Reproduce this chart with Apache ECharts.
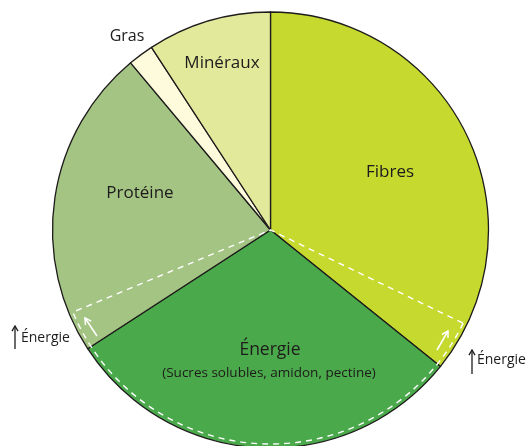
<!DOCTYPE html>
<html><head><meta charset="utf-8">
<script src="https://cdn.jsdelivr.net/npm/echarts@6/dist/echarts.min.js"></script>
<style>html,body{margin:0;padding:0;background:#fff}#c{width:529px;height:446px}</style>
</head><body><div id="c"></div>
<script>
// ---- data ----
const categories = ['Fibres', 'Énergie', 'Protéine', 'Gras', 'Minéraux'];
const shares = [35.8, 30.1, 23.1, 1.9, 9.2];        // % of the pie
const energyInFibres = 3.6;                          // part of Fibres counted as energy
const energyInProteine = 2.9;                        // part of Protéine counted as energy
const energyNote = '(Sucres solubles, amidon, pectine)';
const sideLabel = 'Énergie';
const colors = ['#c5d92f', '#4aa94a', '#a4c483', '#fdfbdc', '#e3e99b'];

// ---- layout ----
const CX = 270.5, CY = 230, R = 218;
const FONT = '"Open Sans", "Noto Sans", sans-serif';
const TXT = '#1e1b1c';

const chart = echarts.init(document.getElementById('c'), null, {renderer: 'canvas'});

const baseData = categories.map((c, i) => ({
  name: c, value: shares[i],
  itemStyle: {color: colors[i]}
}));

const hidden = {color: 'transparent', borderWidth: 0};
const energyTotal = energyInFibres + shares[1] + energyInProteine;
const dashData = [
  {name: 'a', value: shares[0] - energyInFibres, itemStyle: hidden},
  {name: 'energie-zone', value: energyTotal,
   itemStyle: {color: 'transparent', borderColor: '#ffffff', borderWidth: 1.4, borderType: [6, 5]}},
  {name: 'b', value: shares[2] - energyInProteine + shares[3] + shares[4], itemStyle: hidden}
];

function arrow(x1, y1, x2, y2, color, w, head) {
  const dx = x2 - x1, dy = y2 - y1, L = Math.hypot(dx, dy);
  const ux = dx / L, uy = dy / L;
  const a = Math.PI / 6;
  const hx1 = x2 - head * (ux * Math.cos(a) - uy * Math.sin(a));
  const hy1 = y2 - head * (uy * Math.cos(a) + ux * Math.sin(a));
  const hx2 = x2 - head * (ux * Math.cos(a) + uy * Math.sin(a));
  const hy2 = y2 - head * (uy * Math.cos(a) - ux * Math.sin(a));
  return [
    {type: 'polyline', z: 100, shape: {points: [[x1, y1], [x2, y2]]}, style: {stroke: color, lineWidth: w, fill: null}},
    {type: 'polyline', z: 100, shape: {points: [[hx1, hy1], [x2, y2], [hx2, hy2]]}, style: {stroke: color, lineWidth: w, fill: null}}
  ];
}

function txt(x, y, s, size, align) {
  return {type: 'text', z: 100, x: x, y: y,
    style: {text: s, fill: TXT, font: size + 'px ' + FONT, align: align || 'center', verticalAlign: 'middle'}};
}

const graphics = [
  txt(390, 172, categories[0], 17),
  txt(270, 350, categories[1], 17.5),
  txt(269, 373, energyNote, 13.5),
  txt(140, 193, categories[2], 17),
  txt(127, 36, categories[3], 16),
  txt(222, 63, categories[4], 17),
  txt(477, 360, sideLabel, 14, 'left'),
  txt(21, 338, sideLabel, 14, 'left'),
  ...arrow(472, 374, 472, 350, TXT, 1.3, 6),
  ...arrow(15, 349, 15, 326, TXT, 1.3, 6),
  ...arrow(437, 350, 448, 331, '#ffffff', 1.5, 7),
  ...arrow(97, 336, 85, 318, '#ffffff', 1.5, 7)
];

chart.setOption({
  animation: false,
  backgroundColor: '#ffffff',
  series: [
    {
      type: 'pie', center: [CX, CY], radius: [0, R],
      startAngle: 90, clockwise: true, silent: true, avoidLabelOverlap: false,
      label: {show: false}, labelLine: {show: false}, emphasis: {disabled: true},
      itemStyle: {borderColor: TXT, borderWidth: 1.3},
      data: baseData
    },
    {
      type: 'pie', center: [CX, CY], radius: [0, R - 4],
      startAngle: 90, clockwise: true, silent: true, avoidLabelOverlap: false,
      label: {show: false}, labelLine: {show: false}, emphasis: {disabled: true},
      data: dashData
    }
  ],
  graphic: graphics
});
</script>
</body></html>
